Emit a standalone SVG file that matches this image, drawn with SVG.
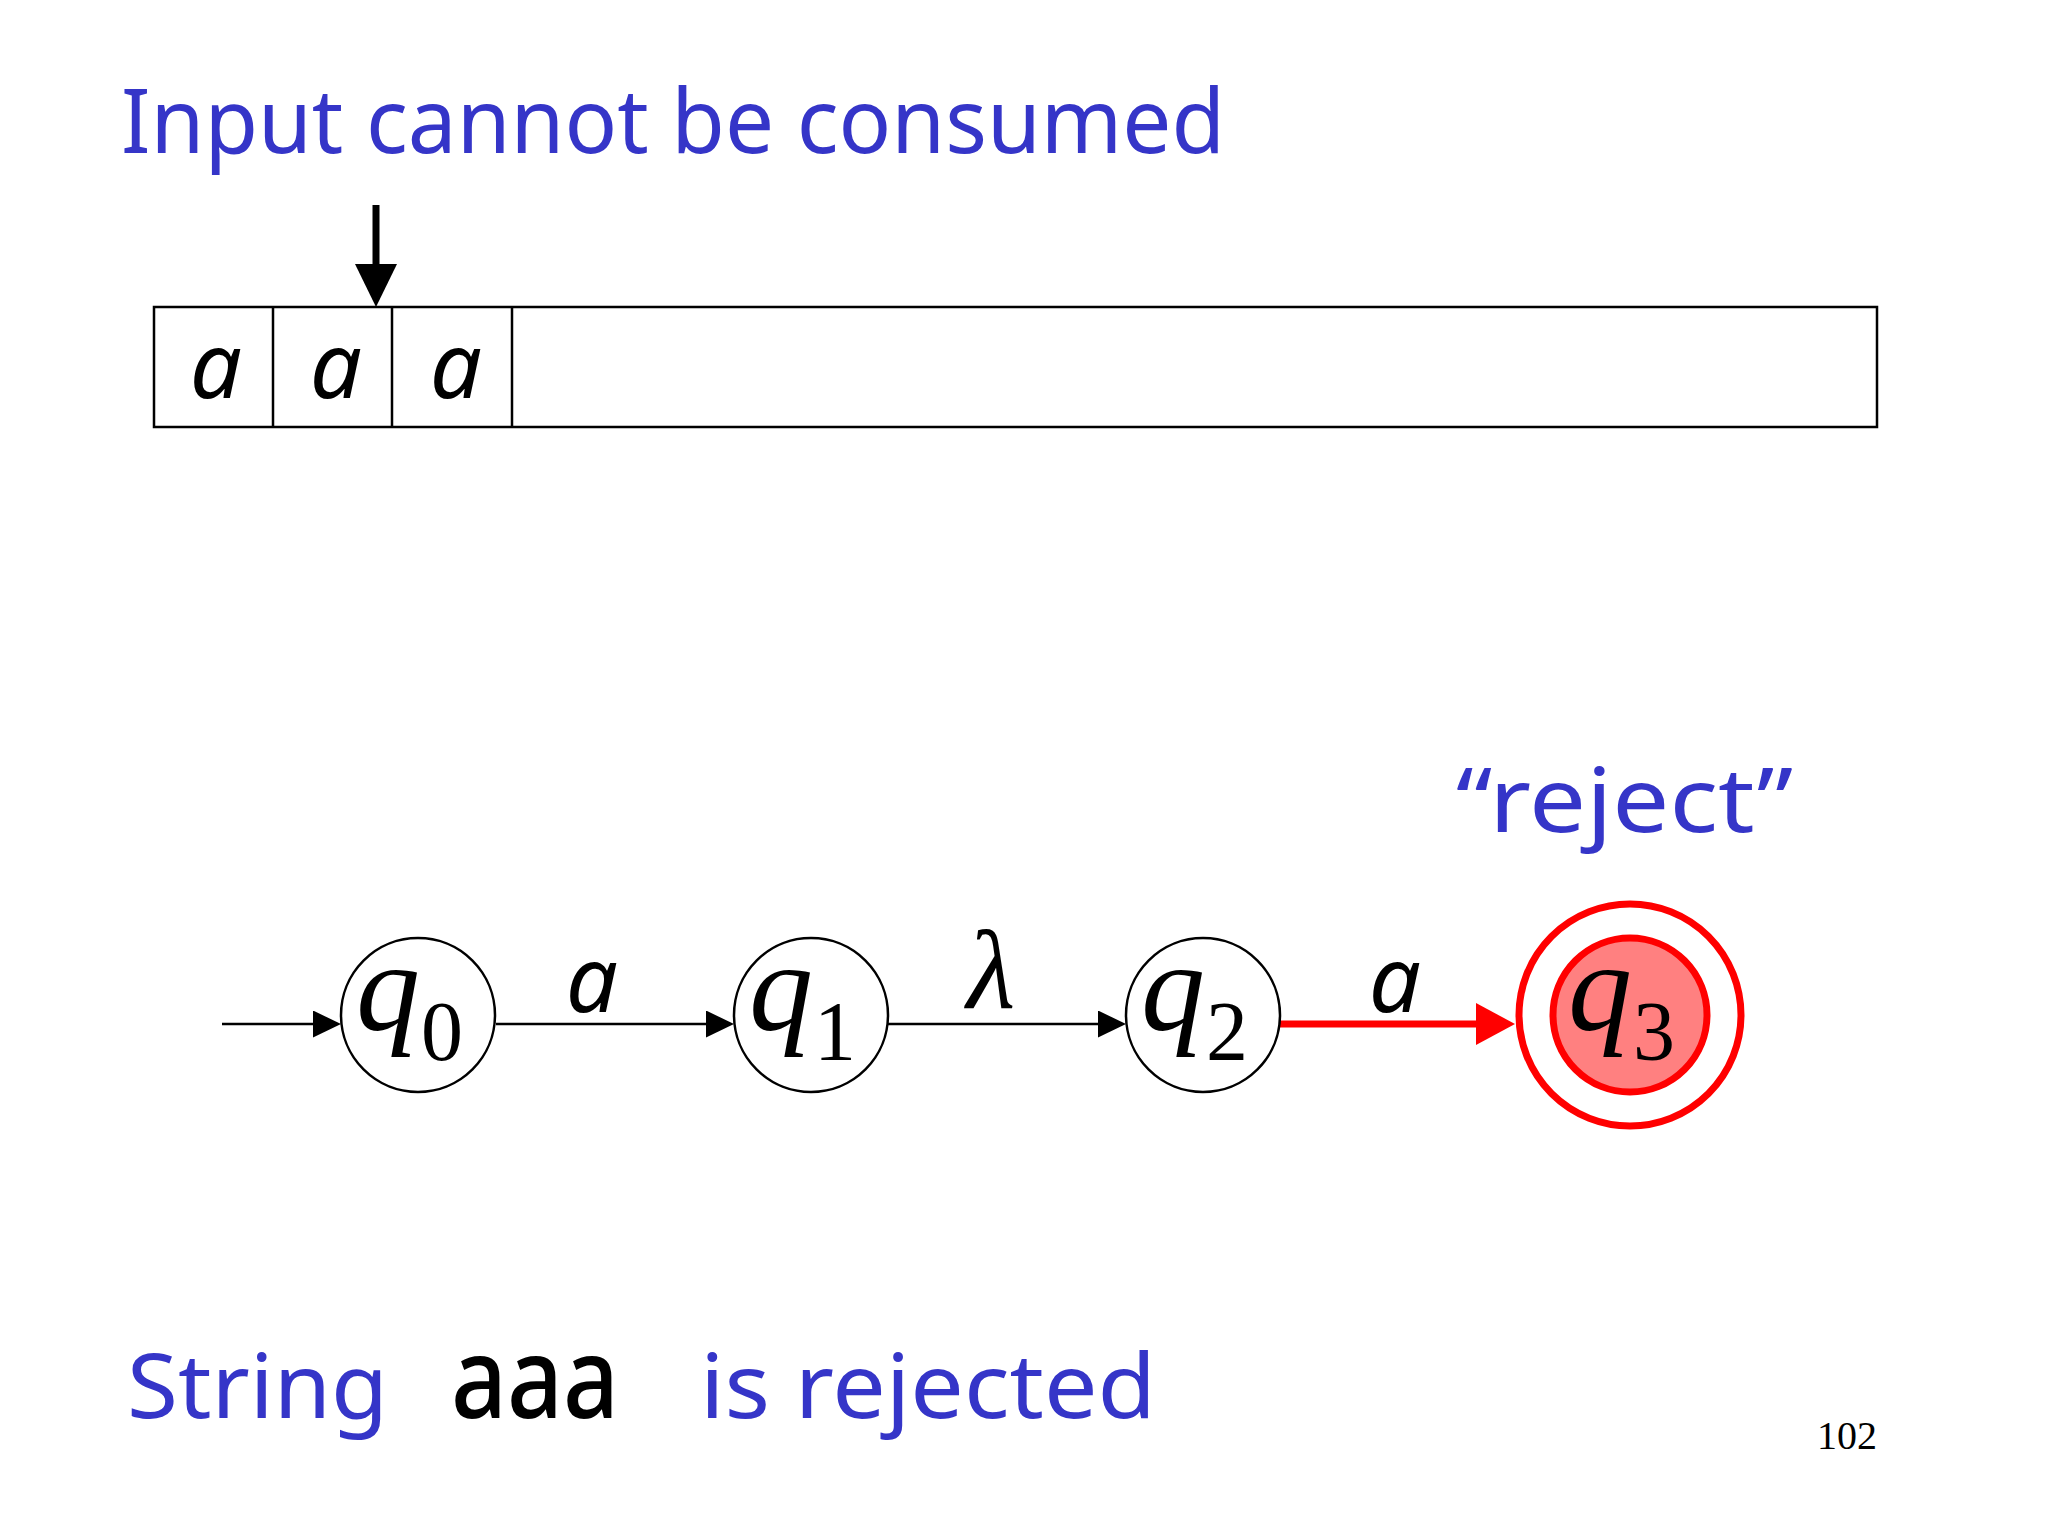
<svg xmlns="http://www.w3.org/2000/svg" width="2048" height="1536" viewBox="0 0 2048 1536">
<style>
.blue{fill:#3535C8;font-family:"Noto Sans","Open Sans",sans-serif;font-size:90px}
.sym{fill:#000;font-family:"Noto Sans","Open Sans",sans-serif;font-style:italic;font-size:92px;text-anchor:middle}
.q{fill:#000;font-family:"Liberation Serif",serif;font-style:italic;font-size:128px}
.sub{fill:#000;font-family:"Liberation Serif",serif;font-size:84px}
.state{fill:#fff;stroke:#000;stroke-width:2.5}
.edge{stroke:#000;stroke-width:2.5;fill:none}
.red{stroke:#F00;stroke-width:7;fill:none}
.cell{fill:none;stroke:#000;stroke-width:2.5}
</style>
<defs>
<marker id="ah" markerUnits="userSpaceOnUse" markerWidth="28" markerHeight="27" refX="23" refY="13.5" orient="auto">
<path d="M0,0 L28,13.5 L0,27 z" fill="#000"/>
</marker>
<marker id="ahr" markerUnits="userSpaceOnUse" markerWidth="39" markerHeight="42" refX="4" refY="21" orient="auto">
<path d="M0,0 L39,21 L0,42 z" fill="#F00"/>
</marker>
<marker id="ahd" markerUnits="userSpaceOnUse" markerWidth="43" markerHeight="42" refX="3" refY="21" orient="auto">
<path d="M0,0 L43,21 L0,42 z" fill="#000"/>
</marker>
</defs>
<rect width="2048" height="1536" fill="#fff"/>

<text class="blue" x="121" y="153" textLength="1104" lengthAdjust="spacingAndGlyphs">Input cannot be consumed</text>

<g id="tape">
<rect class="cell" x="154" y="307" width="1723" height="120"/>
<line class="cell" x1="273" y1="307" x2="273" y2="427"/>
<line class="cell" x1="392" y1="307" x2="392" y2="427"/>
<line class="cell" x1="512" y1="307" x2="512" y2="427"/>
<text class="sym" x="216" y="398">a</text>
<text class="sym" x="336" y="398">a</text>
<text class="sym" x="456" y="398">a</text>
</g>
<g id="head">
<line x1="376" y1="205" x2="376" y2="267" stroke="#000" stroke-width="7" marker-end="url(#ahd)"/>
</g>

<g id="connectors">
<line class="edge" x1="222" y1="1024" x2="336" y2="1024" marker-end="url(#ah)"/>
<line class="edge" x1="496" y1="1024" x2="729" y2="1024" marker-end="url(#ah)"/>
<line class="edge" x1="888" y1="1024" x2="1121" y2="1024" marker-end="url(#ah)"/>
<line class="red" x1="1280" y1="1024" x2="1480" y2="1024" marker-end="url(#ahr)"/>
<text class="sym" x="592" y="1012">a</text>
<text x="991" y="1008" fill="#000" font-family="Liberation Serif,serif" font-style="italic" font-size="112" text-anchor="middle">λ</text>
<text class="sym" x="1395" y="1012">a</text>
</g>

<g id="q0">
<circle class="state" cx="418" cy="1015" r="77"/>
<text class="q" x="356" y="1030">q</text><text class="sub" x="421" y="1060">0</text>
</g>
<g id="q1">
<circle class="state" cx="811" cy="1015" r="77"/>
<text class="q" x="749" y="1030">q</text><text class="sub" x="814" y="1060">1</text>
</g>
<g id="q2">
<circle class="state" cx="1203" cy="1015" r="77"/>
<text class="q" x="1141" y="1030">q</text><text class="sub" x="1206" y="1060">2</text>
</g>
<g id="q3">
<circle cx="1630" cy="1015" r="111" fill="#fff" stroke="#F00" stroke-width="7"/>
<circle cx="1630" cy="1015" r="77" fill="#FF8080" stroke="#F00" stroke-width="7"/>
<text class="q" x="1568" y="1030">q</text><text class="sub" x="1633" y="1060">3</text>
</g>

<text class="blue" x="1456" y="832" textLength="337" lengthAdjust="spacingAndGlyphs">“reject”</text>

<text class="blue" x="127" y="1418" textLength="261" lengthAdjust="spacingAndGlyphs">String</text>
<text x="451" y="1418" fill="#000" font-family="Noto Sans,sans-serif" font-weight="500" font-size="112" textLength="168" lengthAdjust="spacingAndGlyphs">aaa</text>
<text class="blue" x="700" y="1418" textLength="456" lengthAdjust="spacingAndGlyphs">is rejected</text>

<text x="1817" y="1449" fill="#000" font-family="Liberation Serif,serif" font-size="40">102</text>
</svg>
